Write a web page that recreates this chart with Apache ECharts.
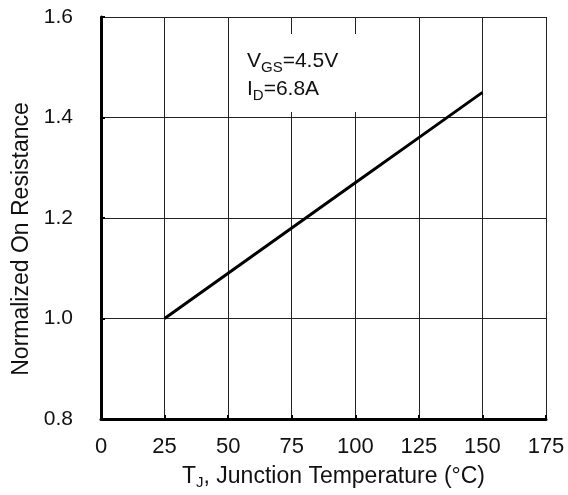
<!DOCTYPE html>
<html>
<head>
<meta charset="utf-8">
<script src="https://cdn.jsdelivr.net/npm/echarts@6/dist/echarts.min.js"></script>
<style>
  html, body { margin: 0; padding: 0; background: #fff; }
  #main { width: 568px; height: 495px; }
</style>
</head>
<body>
<div id="main"></div>
<script>
// junction temperature (°C)
var tempC = [25, 50, 75, 100, 125, 150];
// normalized on-resistance
var rdsNorm = [1.0, 1.09, 1.18, 1.27, 1.36, 1.45];

var myChart = echarts.init(document.getElementById('main'));
var font = '"Liberation Sans", Arial, sans-serif';

var option = {
    backgroundColor: '#fff',
    animation: false,
    grid: { left: 101, right: 22, top: 17, bottom: 76 },
    xAxis: {
        type: 'value',
        min: 0, max: 175, interval: 25,
        name: 'T{sub|J}, Junction Temperature (°C)',
        nameLocation: 'middle',
        nameGap: 45,
        nameTextStyle: {
            color: '#111', fontSize: 23, fontFamily: font,
            padding: [0, 0, 0, 20],
            rich: { sub: { fontSize: 15, verticalAlign: 'bottom', padding: [11, 0, 0, 0], fontFamily: font, color: '#111' } }
        },
        axisLine: { lineStyle: { color: '#000', width: 3 } },
        axisTick: { inside: true, length: 4, lineStyle: { color: '#000', width: 2 } },
        axisLabel: { color: '#111', fontSize: 22, fontFamily: font, margin: 17 },
        splitLine: { show: true, lineStyle: { color: '#222', width: 1 } }
    },
    yAxis: {
        type: 'value',
        min: 0.8, max: 1.6, interval: 0.2,
        name: 'Normalized On Resistance',
        nameLocation: 'middle',
        nameGap: 67,
        nameTextStyle: { color: '#111', fontSize: 23, fontFamily: font, padding: [0, 42, 0, 0] },
        axisLine: { show: true, lineStyle: { color: '#000', width: 3 } },
        axisTick: { show: true, inside: true, length: 4, lineStyle: { color: '#000', width: 2 } },
        axisLabel: {
            color: '#111', fontSize: 21, fontFamily: font, margin: 28,
            padding: [5, 0, 0, 0],
            formatter: function (v) { return v.toFixed(1); }
        },
        splitLine: { show: true, lineStyle: { color: '#222', width: 1 } }
    },
    graphic: [
        {
            type: 'rect', z: 100,
            shape: { x: 240, y: 34, width: 150, height: 78 },
            style: { fill: '#fff' }
        },
        {
            type: 'text', z: 101, left: 247, top: 47,
            style: {
                text: 'V{sub|GS}=4.5V\nI{sub|D}=6.8A',
                fill: '#111', fontSize: 21, fontFamily: font, lineHeight: 28,
                rich: { sub: { fontSize: 15, verticalAlign: 'bottom', padding: [10, 0, 0, 0], fill: '#111', fontFamily: font } }
            }
        }
    ],
    series: [
        {
            type: 'line',
            data: tempC.map(function (t, i) { return [t, rdsNorm[i]]; }),
            showSymbol: false,
            lineStyle: { color: '#000', width: 3 },
            z: 5
        }
    ]
};

myChart.setOption(option);
</script>
</body>
</html>
